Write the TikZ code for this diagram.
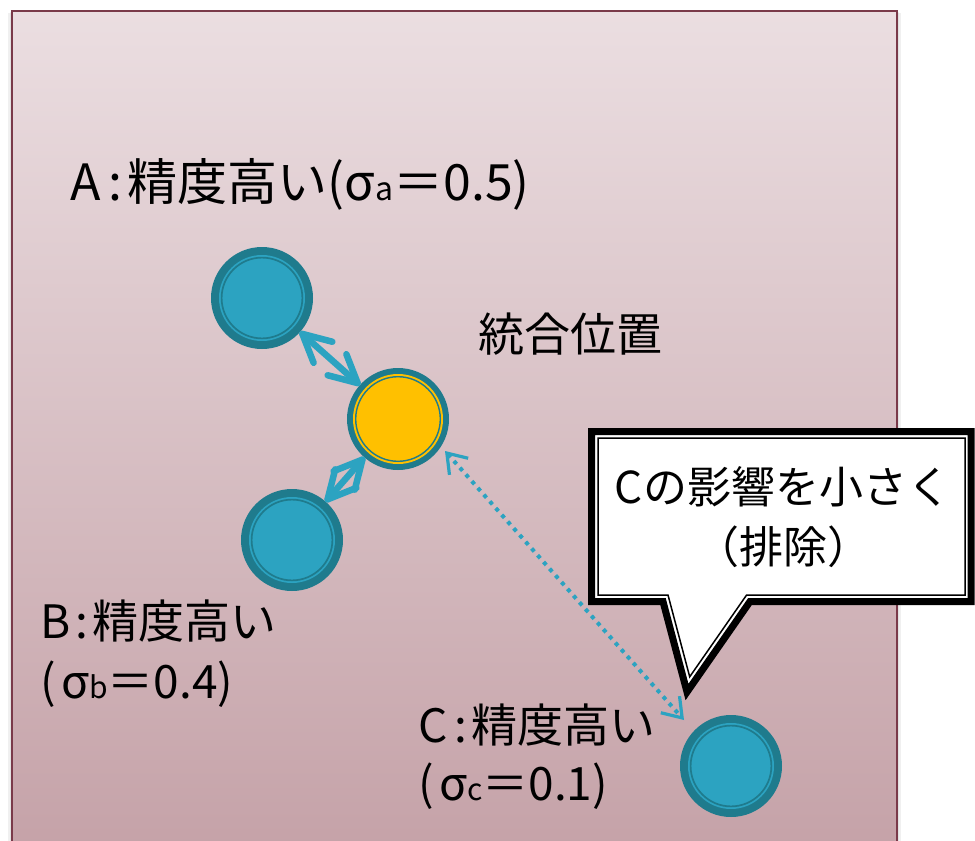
\documentclass[tikz,border=0pt]{standalone}
\usepackage{fontspec}
\setmainfont{Noto Sans CJK JP}
\usetikzlibrary{arrows.meta,calc}
\definecolor{darkteal}{HTML}{1F7B8D}
\definecolor{lteal}{HTML}{2CA3C1}
\definecolor{yel}{HTML}{FFC000}
\definecolor{bgtop}{HTML}{EBDEE1}
\definecolor{bgbot}{HTML}{C5A2A8}
\definecolor{bord}{HTML}{7A3A4A}
\newcommand\sublet[1]{{\fontsize{30}{30}\selectfont #1}}
\newcommand\subletA[1]{{\fontsize{32}{32}\selectfont #1}}
\newcommand\barbhead[2]{\draw[thickline] ($(#1)!31pt!27:(#2)$) -- (#1) -- ($(#1)!31pt!-27:(#2)$);}
\tikzset{
  mysmallbarb/.tip={Straight Barb[length=18pt,width=25pt,line width=3.2pt]}
}
\begin{document}
\begin{tikzpicture}[x=1pt,y=-1pt,
  disk/.style={circle, minimum size=102pt, inner sep=0pt, fill=darkteal},
  lab/.style={inner sep=0pt, anchor=west, align=left, text=black},
  thickline/.style={draw=lteal, line width=6.5pt, line cap=round, line join=round},
  dotarrow/.style={draw=lteal, line width=4pt, dash pattern=on 4pt off 5pt, {mysmallbarb}-{mysmallbarb}}
]
\useasboundingbox (0,0) rectangle (975,841);
% shadow
\fill[black, opacity=0.06] (8,13) rectangle (901,850);
\fill[black, opacity=0.06] (10,12) rectangle (899,850);
% background
\shade[top color=bgtop, bottom color=bgbot] (12,11) rectangle (897,850);
\draw[bord, line width=1.5pt] (12,850) -- (12,11) -- (897,11) -- (897,850);

% disks
\node[disk] (A) at (262,298) {};
\node[disk] (Y) at (398,419) {};
\node[disk] (B) at (292,540) {};
\node[disk] (C) at (731,766) {};
\foreach \n in {A,B,C}{
  \fill[lteal] (\n.center) circle (43pt);
  \draw[darkteal, line width=1.7pt] (\n.center) circle (40.4pt);
}
\fill[yel] (Y.center) circle (45pt);
\draw[darkteal, line width=1.4pt] (Y.center) circle (42.3pt);

% connectors A-Y and B-Y (double arrows with open barbs)
\coordinate (tAY) at ($(A.center)!54pt!(Y.center)$);
\coordinate (tYA) at ($(Y.center)!54pt!(A.center)$);
\coordinate (tBY) at ($(B.center)!54pt!(Y.center)$);
\coordinate (tYB) at ($(Y.center)!54pt!(B.center)$);
\draw[thickline] (tAY) -- (tYA);
\barbhead{tAY}{tYA}
\barbhead{tYA}{tAY}
\draw[thickline] (tBY) -- (tYB);
\barbhead{tBY}{tYB}
\barbhead{tYB}{tBY}
% dotted connector Y-C
\coordinate (d1) at (445,451);
\coordinate (d2) at (684,720);
\draw[dotarrow] (d1) -- (d2);

% labels
\node[lab, font=\fontsize{50}{60}\selectfont] (la) at (70,184) {A\hspace{0.15em}:\hspace{0.12em}精度高い(σ\subletA{a}＝0.5)};
\node[lab, font=\fontsize{46}{60}\selectfont] (ly) at (478,334) {統合位置};
\node[lab, font=\fontsize{46}{60}\selectfont] (lb) at (40,654) {B\hspace{0.1em}:\hspace{0.1em}精度高い\\(\hspace{0.12em}σ\sublet{b}＝0.4)};
\node[lab, font=\fontsize{46}{58}\selectfont] (lc) at (418,757) {C\hspace{0.15em}:\hspace{0.1em}精度高い\\(\hspace{0.12em}σ\sublet{c}＝0.1)};

% callout
\filldraw[fill=white, draw=black, line width=7pt, line join=miter]
  (591.5,431.5) -- (971,431.5) -- (971,601.5) -- (750,601.5) -- (687,692)
  -- (663,601.5) -- (591.5,601.5) -- cycle;
\draw[black, line width=1.5pt, line join=miter]
  (598,438) -- (965,438) -- (965,595) -- (746.6,595) -- (689.7,676.8)
  -- (668,595) -- (598,595) -- cycle;
\node[inner sep=0pt, align=center, font=\fontsize{44}{60}\selectfont] (ct) at (783,517) {Cの影響を小さく\\（排除）};
\end{tikzpicture}
\end{document}
